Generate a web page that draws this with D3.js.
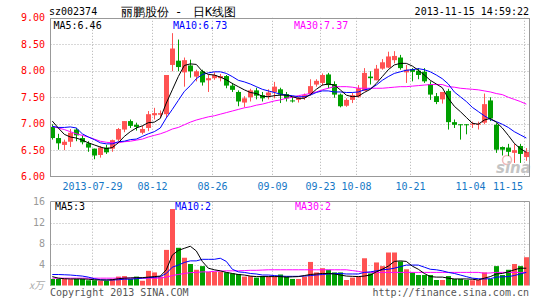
<!DOCTYPE html>
<html>
<head>
<meta charset="utf-8">
<script src="https://cdn.jsdelivr.net/npm/d3@7.9.0/dist/d3.min.js"></script>
<style>
  body { margin: 0; background: #fff; }
  svg { display: block; }
  text { font-family: "DejaVu Sans Mono", "Liberation Mono", monospace; font-size: 10px; }
</style>
</head>
<body>
<div id="chart"></div>
<script>
// daily K-line data, 80 trading days (2013-07-18 .. 2013-11-15)
const opens = [6.94,6.73,6.60,6.66,6.89,6.73,6.63,6.53,6.41,6.55,6.53,6.70,6.89,7.05,6.98,6.83,6.92,7.16,7.17,7.18,
  8.11,8.19,7.97,8.10,7.89,7.99,7.82,7.86,7.86,7.90,7.72,7.60,7.40,7.50,7.63,7.54,7.53,7.60,7.65,7.56,
  7.44,7.45,7.49,7.56,7.74,7.77,7.93,7.75,7.55,7.34,7.45,7.51,7.62,7.89,7.82,8.04,8.06,8.20,8.25,7.97,
  8.03,8.00,7.98,7.75,7.52,7.46,7.62,7.03,6.99,6.99,6.99,7.00,7.02,7.44,6.98,6.56,6.55,6.45,6.58,6.37];
const highs = [6.99,6.81,6.70,6.90,6.92,6.78,6.67,6.53,6.58,6.60,6.70,6.92,7.05,7.08,7.02,6.96,7.24,7.30,7.25,7.92,
  8.71,8.59,8.25,8.21,8.02,8.02,7.92,7.97,7.94,7.92,7.77,7.63,7.52,7.66,7.68,7.60,7.65,7.79,7.68,7.60,
  7.51,7.51,7.57,7.84,7.84,7.95,7.96,7.80,7.57,7.48,7.58,7.73,8.05,7.99,8.11,8.22,8.36,8.37,8.30,8.11,
  8.05,8.05,8.05,7.80,7.58,7.60,7.66,7.08,6.99,6.99,7.04,7.04,7.57,7.50,7.01,6.57,6.62,6.62,6.62,6.54];
const lows = [6.70,6.51,6.50,6.56,6.67,6.61,6.47,6.33,6.36,6.43,6.47,6.67,6.84,6.92,6.87,6.80,6.86,7.08,7.11,7.11,
  7.99,7.99,7.70,7.87,7.80,7.72,7.60,7.83,7.80,7.67,7.60,7.33,7.31,7.42,7.46,7.42,7.46,7.48,7.39,7.42,
  7.40,7.40,7.45,7.53,7.70,7.72,7.67,7.49,7.31,7.32,7.39,7.49,7.62,7.74,7.82,8.02,8.05,8.14,8.02,7.77,
  7.80,7.84,7.77,7.45,7.37,7.38,6.89,6.92,6.70,6.80,6.92,6.89,6.99,7.05,6.45,6.40,6.39,6.26,6.26,6.30];
const closes = [6.73,6.63,6.66,6.83,6.78,6.65,6.55,6.40,6.55,6.46,6.69,6.90,7.05,6.96,6.94,6.90,7.18,7.20,7.20,7.92,
  8.42,8.07,8.20,7.99,7.99,7.78,7.86,7.92,7.90,7.72,7.64,7.42,7.48,7.63,7.53,7.48,7.59,7.70,7.55,7.48,
  7.43,7.49,7.54,7.71,7.81,7.92,7.73,7.55,7.33,7.45,7.54,7.67,7.96,7.86,8.04,8.16,8.27,8.28,8.05,8.02,
  7.98,7.92,7.80,7.55,7.41,7.60,7.03,6.98,6.98,6.98,7.00,7.00,7.37,7.10,6.51,6.51,6.47,6.50,6.43,6.47];

// moving averages
const ma5 = [7.05,6.92,6.80,6.75,6.73,6.69,6.64,6.60,6.56,6.53,6.55,6.64,6.76,6.85,6.92,6.96,7.02,7.03,7.10,7.39,
  7.64,7.89,8.10,8.13,8.12,7.99,7.93,7.92,7.88,7.83,7.76,7.70,7.64,7.59,7.57,7.52,7.51,7.53,7.54,7.54,
  7.51,7.48,7.48,7.55,7.65,7.73,7.75,7.73,7.64,7.54,7.51,7.52,7.59,7.65,7.76,7.89,8.02,8.11,8.14,8.14,
  8.09,8.01,7.92,7.82,7.75,7.68,7.48,7.33,7.23,7.12,7.01,6.99,7.07,7.10,7.03,6.92,6.78,6.63,6.53,6.46];
const ma10 = [6.95,6.93,6.93,6.94,6.92,6.81,6.75,6.70,6.64,6.62,6.62,6.66,6.67,6.70,6.71,6.76,6.81,6.85,6.92,7.11,
  7.27,7.44,7.61,7.72,7.85,7.93,7.96,7.98,7.98,7.95,7.89,7.82,7.79,7.75,7.70,7.65,7.62,7.59,7.56,7.54,
  7.53,7.51,7.51,7.54,7.59,7.62,7.62,7.60,7.60,7.59,7.59,7.60,7.64,7.66,7.73,7.82,7.89,7.95,7.98,8.01,
  8.02,8.04,8.02,7.98,7.92,7.85,7.75,7.60,7.51,7.42,7.31,7.23,7.15,7.08,7.04,6.99,6.93,6.85,6.79,6.73];
const ma30 = [6.95,6.92,6.89,6.85,6.81,6.78,6.75,6.71,6.67,6.65,6.64,6.64,6.66,6.67,6.69,6.71,6.75,6.78,6.81,6.85,
  6.90,6.93,6.98,7.03,7.07,7.10,7.13,7.15,7.18,7.21,7.24,7.27,7.30,7.32,7.35,7.37,7.40,7.43,7.45,7.48,
  7.50,7.53,7.55,7.57,7.60,7.64,7.67,7.70,7.70,7.70,7.69,7.67,7.67,7.67,7.67,7.67,7.68,7.69,7.70,7.70,
  7.71,7.72,7.73,7.74,7.74,7.74,7.70,7.69,7.67,7.66,7.65,7.64,7.62,7.60,7.57,7.55,7.50,7.46,7.42,7.37];

// volume in 10k lots
const volumes = [1.25,1.25,1.25,1.2,1.25,1.25,1.0,1.0,0.9,0.9,1.25,1.7,1.8,1.25,1.7,0.9,2.8,2.5,1.7,6.8,
  14.6,7.2,5.3,4.1,3.0,3.7,2.6,2.6,2.6,2.5,2.3,2.2,1.7,1.8,1.5,1.8,1.7,1.7,2.1,1.7,
  1.25,1.25,1.7,4.5,2.5,3.3,3.0,2.5,2.5,1.05,1.5,1.7,5.2,2.3,4.4,3.7,6.3,6.3,4.6,3.1,
  2.5,2.0,2.0,2.0,1.05,1.05,1.8,1.25,1.25,1.05,1.0,1.05,2.5,1.25,3.7,2.0,3.0,4.1,3.7,5.4];
const volMa5 = [1.7,1.4,1.3,1.25,1.25,1.25,1.2,1.1,1.05,1.05,1.1,1.3,1.4,1.45,1.5,1.5,1.6,1.7,1.8,3.0,
  5.8,6.7,7.1,7.5,6.6,4.6,3.3,3.0,2.8,2.5,2.3,2.1,2.0,1.8,1.7,1.7,1.7,1.7,1.7,1.6,
  1.65,1.7,1.9,2.1,2.2,2.3,2.3,2.2,2.0,1.8,1.75,1.7,1.8,2.0,2.6,3.1,3.7,4.6,4.7,4.6,
  3.7,3.1,2.3,1.7,1.6,1.6,1.4,1.25,1.25,1.25,1.2,1.05,1.4,1.7,2.2,2.3,2.6,3.0,3.3,3.3];
const volMa10 = [2.1,2.1,2.05,2.0,1.9,1.8,1.6,1.3,1.1,1.05,1.05,1.1,1.2,1.2,1.3,1.4,1.5,1.55,1.7,2.3,
  3.5,3.9,4.4,4.7,4.7,5.0,5.0,5.0,5.2,4.6,3.1,2.6,2.5,2.3,2.2,2.0,2.0,1.9,1.8,1.75,
  1.75,1.75,1.8,1.9,2.0,2.1,2.2,2.3,2.3,2.2,2.2,2.2,2.5,2.6,2.8,3.0,3.1,3.3,3.6,3.9,
  3.9,3.9,3.5,3.1,3.0,2.8,2.5,2.3,2.0,1.7,1.4,1.3,1.25,1.3,1.6,1.65,1.7,1.9,2.2,2.5];
const volMa30 = [1.4,1.4,1.4,1.4,1.4,1.4,1.4,1.4,1.4,1.4,1.4,1.4,1.4,1.4,1.4,1.4,1.4,1.4,1.4,1.6,
  1.9,2.1,2.3,2.45,2.5,2.6,2.6,2.7,2.75,2.8,2.8,2.8,2.85,2.9,2.9,2.95,3.0,3.0,3.0,3.0,
  3.0,3.0,3.0,3.0,3.0,3.0,3.0,3.0,3.0,3.0,2.85,2.7,2.5,2.5,2.5,2.5,2.5,2.5,2.5,2.5,
  2.5,2.5,2.5,2.5,2.5,2.5,2.5,2.5,2.5,2.5,2.5,2.5,2.35,2.4,2.5,2.5,2.5,2.5,2.5,2.5];

// x axis labels and which candle they sit on
const dayLabels = ["2013-07-29", "08-12", "08-26", "09-09", "09-23", "10-08", "10-21", "11-04", "11-15"];
const dayLabelIdx = [7, 17, 27, 37, 45, 51, 60, 70, 79];
const priceTicks = [9.0, 8.5, 8.0, 7.5, 7.0, 6.5, 6.0];
const volTicks = [16, 12, 8, 4];

const width = 545, height = 300;
const RED = "#ff5353", GREEN = "#009f00";

const svg = d3.select("#chart").append("svg")
  .attr("width", width)
  .attr("height", height);

// scales
const x = d3.scaleLinear().domain([0, closes.length - 1]).range([52.3, 526.3]);
const y = d3.scaleLinear().domain([6, 9]).range([176.7, 17.8]);
const yVol = d3.scaleLinear().domain([0, 16]).range([285.5, 201.7]);

const left = 50.5, right = 529.5;
const gridX = i => Math.round(x(i) - 2) + 0.5;

// header
svg.append("text").attr("x", 49).attr("y", 15).attr("fill", "#000").text("sz002374");
const title = svg.append("g")
  .style("font-family", "'Noto Sans CJK SC', sans-serif").style("font-size", "12px")
  .attr("fill", "#000");
title.append("text").attr("x", 121).attr("y", 16).style("font-size", "12px").text("丽鹏股份");
title.append("text").attr("x", 175).attr("y", 16).style("font-size", "12px").text("-");
title.append("text").attr("x", 193).attr("y", 16).style("font-size", "12px").text("日K线图");
svg.append("text").attr("x", 529).attr("y", 15).attr("text-anchor", "end")
  .attr("fill", "#000").text("2013-11-15 14:59:22");

// price panel grid
const grid = svg.append("g")
  .attr("stroke", "#b0b0b0")
  .attr("stroke-dasharray", "1,2");
priceTicks.slice(1, -1).forEach(v => {
  const yy = Math.round(y(v)) + 0.5;
  grid.append("line").attr("x1", left).attr("x2", right).attr("y1", yy).attr("y2", yy);
});
volTicks.slice(1).forEach(v => {
  const yy = Math.round(yVol(v)) + 0.5;
  grid.append("line").attr("x1", left).attr("x2", right).attr("y1", yy).attr("y2", yy);
});
dayLabelIdx.forEach(i => {
  grid.append("line").attr("x1", gridX(i)).attr("x2", gridX(i)).attr("y1", y(9)).attr("y2", y(6));
  grid.append("line").attr("x1", gridX(i)).attr("x2", gridX(i)).attr("y1", yVol(16)).attr("y2", yVol(0));
});

// price labels (red) and date labels (blue)
svg.append("g").selectAll("text")
  .data(priceTicks)
  .join("text")
  .attr("x", 45)
  .attr("y", d => y(d) + 3.5)
  .attr("text-anchor", "middle")
  .attr("text-anchor", "end")
  .attr("fill", "#ff0000")
  .text(d => d.toFixed(2));

// last label gets pushed left so it stays inside the frame
svg.append("g").selectAll("text")
  .data(dayLabels)
  .join("text")
  .attr("x", (d, k) => Math.min(gridX(dayLabelIdx[k]), 523 - d.length * 3))
  .attr("y", 190)
  .attr("text-anchor", "middle")
  .attr("fill", "#1577c6")
  .text(d => d);

// sina watermark
const wm = svg.append("g");
wm.append("circle").attr("cx", 507).attr("cy", 160).attr("r", 4.5)
  .attr("fill", "none").attr("stroke", "#f2b8b8").attr("stroke-width", 1.5);
wm.append("text").attr("x", 496).attr("y", 173)
  .style("font-family", "'DejaVu Sans', sans-serif").style("font-size", "15px")
  .style("font-weight", "bold").style("font-style", "italic")
  .attr("fill", "#c4c4c4").text("sina");

// candles
const candles = svg.append("g");
closes.forEach((c, i) => {
  const o = opens[i];
  const col = c >= o ? RED : GREEN;
  const cx = Math.round(x(i)) + 0.5;
  candles.append("line")
    .attr("x1", cx).attr("x2", cx)
    .attr("y1", y(highs[i])).attr("y2", y(lows[i]))
    .attr("stroke", col);
  const top = y(Math.max(o, c));
  const h = Math.max(1, Math.abs(y(o) - y(c)));
  candles.append("rect")
    .attr("x", cx - 2.5).attr("width", 5)
    .attr("y", top).attr("height", h)
    .attr("fill", col);
});

// MA lines on price
const priceLine = d3.line().x((d, i) => x(i)).y(d => y(d));
[[ma30, "#ff00ff"], [ma10, "#0000ff"], [ma5, "#000000"]].forEach(([arr, col]) => {
  svg.append("path").attr("d", priceLine(arr))
    .attr("fill", "none").attr("stroke", col).attr("stroke-width", 1);
});

// price panel border
svg.append("rect")
  .attr("x", left).attr("y", 18.5)
  .attr("width", right - left).attr("height", 158)
  .attr("fill", "none").attr("stroke", "#999");

svg.append("text").attr("x", 53.5).attr("y", 29).attr("fill", "#000").text("MA5:6.46");
svg.append("text").attr("x", 173).attr("y", 29).attr("fill", "#0000ff").text("MA10:6.73");
svg.append("text").attr("x", 294).attr("y", 29).attr("fill", "#ff00ff").text("MA30:7.37");

// volume bars
svg.append("g").selectAll("rect")
  .data(volumes)
  .join("rect")
  .attr("x", (d, i) => Math.round(x(i)) - 2)
  .attr("width", 5)
  .attr("y", d => yVol(d))
  .attr("height", d => yVol(0) - yVol(d))
  .attr("fill", (d, i) => closes[i] >= opens[i] ? RED : GREEN);

const volLine = d3.line().x((d, i) => x(i)).y(d => yVol(d));
[[volMa30, "#ff00ff"], [volMa10, "#0000ff"], [volMa5, "#000000"]].forEach(([arr, col]) => {
  svg.append("path").attr("d", volLine(arr))
    .attr("fill", "none").attr("stroke", col).attr("stroke-width", 1);
});

// volume panel border (no bottom edge)
svg.append("path")
  .attr("d", `M${left},${yVol(0)}V201.5H${right}V${yVol(0)}`)
  .attr("fill", "none").attr("stroke", "#999");

svg.append("g").selectAll("text")
  .data(volTicks)
  .join("text")
  .attr("x", 45)
  .attr("y", d => yVol(d) + 3.5)
  .attr("text-anchor", "end")
  .attr("fill", "#999")
  .text(d => d);

svg.append("text").attr("x", 29).attr("y", 289)
  .style("font-family", "'Noto Sans CJK SC', sans-serif").style("font-size", "10px")
  .style("font-style", "italic").attr("fill", "#aaa").text("x万");

svg.append("text").attr("x", 55).attr("y", 210).attr("fill", "#000").text("MA5:3");
svg.append("text").attr("x", 175).attr("y", 210).attr("fill", "#0000ff").text("MA10:2");
svg.append("text").attr("x", 295).attr("y", 210).attr("fill", "#ff00ff").text("MA30:2");

// footer
svg.append("text").attr("x", 50).attr("y", 296).attr("fill", "#555").text("Copyright 2013 SINA.COM");
svg.append("text").attr("x", 529).attr("y", 296).attr("text-anchor", "end")
  .attr("fill", "#555").text("http://finance.sina.com.cn");
</script>
</body>
</html>
